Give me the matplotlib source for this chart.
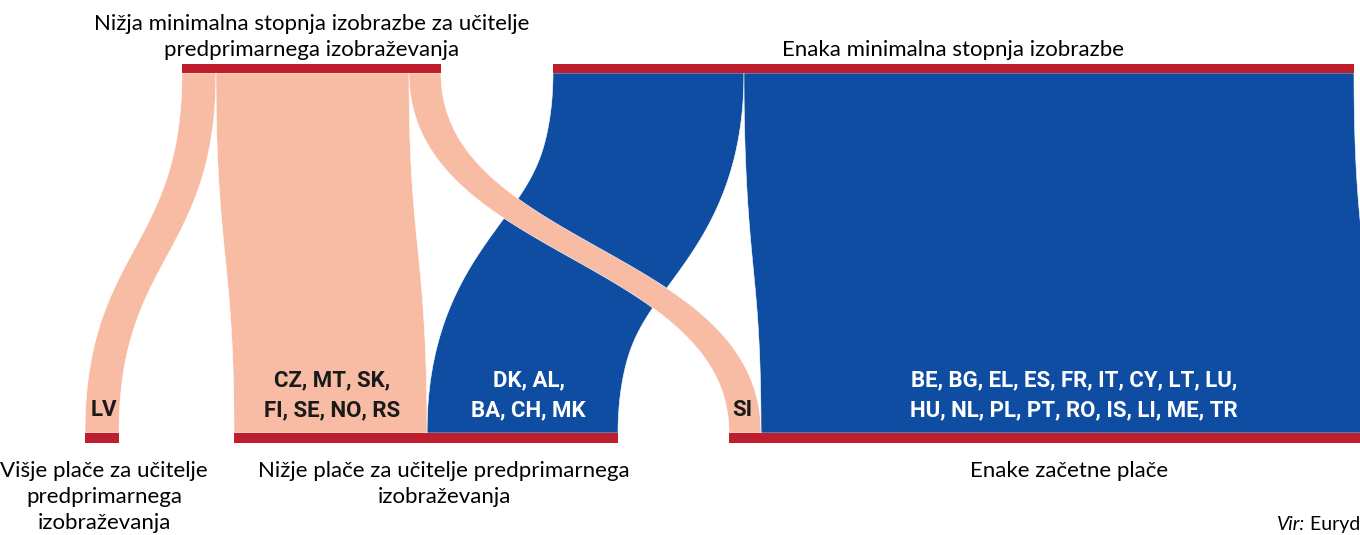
import matplotlib
matplotlib.use("Agg")
import matplotlib.pyplot as plt
from matplotlib.patches import Polygon, Rectangle
import numpy as np

# ---------------- data ----------------
source_nodes = ["Nižja minimalna stopnja izobrazbe za učitelje\npredprimarnega izobraževanja",
                "Enaka minimalna stopnja izobrazbe"]
target_nodes = ["Višje plače za učitelje\npredprimarnega\nizobraževanja",
                "Nižje plače za učitelje predprimarnega\nizobraževanja",
                "Enake začetne plače"]
flow_source = [0, 0, 0, 1, 1]
flow_target = [0, 1, 2, 1, 2]
flow_value = [34, 193, 32, 191, 610]
flow_label = ["LV",
              "CZ, MT, SK,\nFI, SE, NO, RS",
              "SI",
              "DK, AL,\nBA, CH, MK",
              "BE, BG, EL, ES, FR, IT, CY, LT, LU,\nHU, NL, PL, PT, RO, IS, LI, ME, TR"]
source_text = "Vir:"
source_name = " Eurydice."

# ---------------- layout / style ----------------
W, H = 1360, 535
top_start = [182, 553]        # left edge of each upper node
bot_start = [85, 234, 729]    # left edge of each lower node
y_top, y_bot = 73, 433        # flow ends
bar_h = 9.5
src_colors = ["#F8BBA3", "#0E4DA1"]
lab_colors = ["#1a1a1a", "white"]
bar_color = "#BE1E2D"
tgt_label_x = [104, 444, 1069]
label_dx = [2, 2, -3, 6, 8]

fig = plt.figure(figsize=(W / 100, H / 100), dpi=100)
ax = fig.add_axes([0, 0, 1, 1])
ax.set_xlim(0, W)
ax.set_ylim(H, 0)
ax.axis("off")

n = len(flow_value)
top_x = [0.0] * n
cursor = list(map(float, top_start))
for i in sorted(range(n), key=lambda k: (flow_source[k], flow_target[k])):
    top_x[i] = cursor[flow_source[i]]
    cursor[flow_source[i]] += flow_value[i]
top_end = cursor
bot_x = [0.0] * n
cursor = list(map(float, bot_start))
for i in sorted(range(n), key=lambda k: (flow_target[k], flow_source[k])):
    bot_x[i] = cursor[flow_target[i]]
    cursor[flow_target[i]] += flow_value[i]
bot_end = cursor

t = np.linspace(0, 1, 200)[:, None]


def band(x0, x1, w, k=0.5):
    dy = y_bot - y_top
    p0 = np.array([x0, y_top]); p1 = np.array([x0, y_top + k * dy])
    p2 = np.array([x1, y_bot - k * dy]); p3 = np.array([x1, y_bot])
    c = ((1 - t) ** 3) * p0 + 3 * ((1 - t) ** 2) * t * p1 + 3 * (1 - t) * t ** 2 * p2 + t ** 3 * p3
    d = 3 * ((1 - t) ** 2) * (p1 - p0) + 6 * (1 - t) * t * (p2 - p1) + 3 * t ** 2 * (p3 - p2)
    L = np.hypot(d[:, 0], d[:, 1])
    nrm = np.column_stack([d[:, 1], -d[:, 0]]) / L[:, None]
    f = (d[:, 1] ** 2 / L ** 2) ** 0.25
    half = (w / 2) * f[:, None]
    right = c + half * nrm
    left = c - half * nrm
    return np.vstack([left, right[::-1]])


order = sorted(range(n), key=lambda k: -flow_source[k])
for i in order:
    w = flow_value[i]
    poly = band(top_x[i] + w / 2, bot_x[i] + w / 2, w)
    ax.add_patch(Polygon(poly, closed=True, facecolor=src_colors[flow_source[i]],
                         edgecolor="white", linewidth=0.4, zorder=2))

for i in range(n):
    cx = bot_x[i] + flow_value[i] / 2 + label_dx[i]
    ax.text(cx, 421, flow_label[i], ha="center", va="bottom", multialignment="center",
            fontsize=16, fontweight="bold", family="Roboto", color=lab_colors[flow_source[i]],
            linespacing=1.45, zorder=4)

for j in range(len(source_nodes)):
    ax.add_patch(Rectangle((top_start[j], y_top - bar_h), top_end[j] - top_start[j], bar_h,
                           facecolor=bar_color, edgecolor="none", zorder=3))
    ax.text((top_start[j] + top_end[j]) / 2, 60, source_nodes[j], ha="center", va="bottom",
            multialignment="center", fontsize=16, family="Lato", color="black", linespacing=1.38)
for j in range(len(target_nodes)):
    ax.add_patch(Rectangle((bot_start[j], y_bot), bot_end[j] - bot_start[j], bar_h + 0.5,
                           facecolor=bar_color, edgecolor="none", zorder=3))
    ax.text(tgt_label_x[j], 461, target_nodes[j], ha="center", va="top",
            multialignment="center", fontsize=16, family="Lato", color="black", linespacing=1.38)

t1 = ax.text(1277, 530, source_text, ha="left", va="baseline", fontsize=14,
             family="Lato", style="italic", color="black")
ax.annotate(source_name, xy=(1, 0), xycoords=t1, ha="left", va="bottom",
            fontsize=14, family="Lato", color="black")

fig.savefig("out.png", dpi=100)
